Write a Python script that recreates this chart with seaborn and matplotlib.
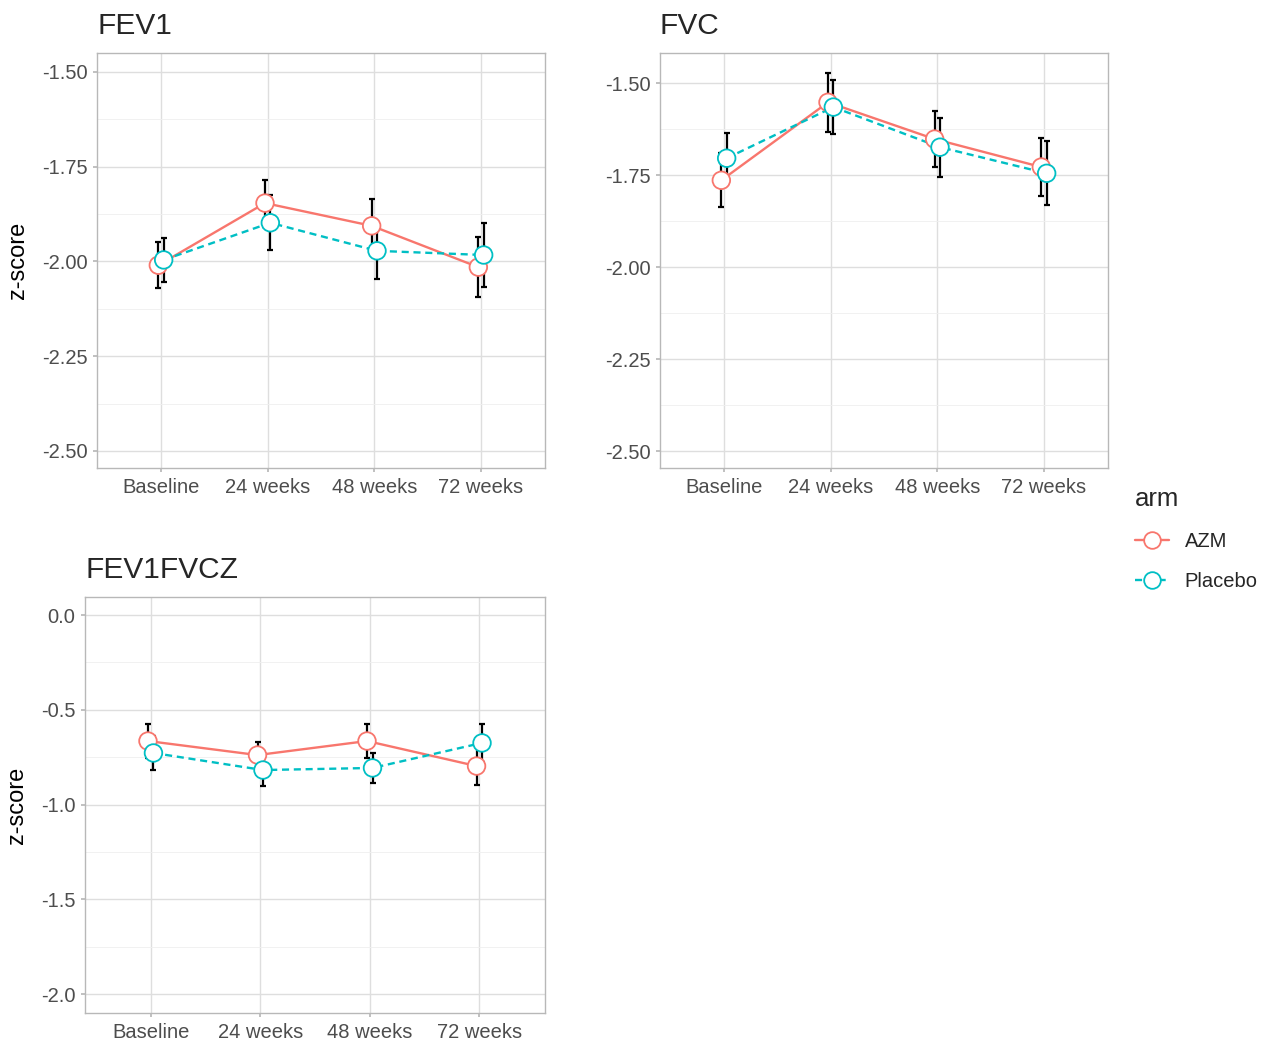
import numpy as np
import pandas as pd
import matplotlib
matplotlib.use("Agg")
import matplotlib.pyplot as plt
from matplotlib.lines import Line2D
import seaborn as sns

# visits and arms
visits = ["Baseline", "24 weeks", "48 weeks", "72 weeks"]
arms = ["AZM", "Placebo"]

# mean z-scores and error bar half-widths
fev1_azm = [-2.010, -1.846, -1.906, -2.015]
fev1_azm_err = [0.060, 0.062, 0.070, 0.080]
fev1_pbo = [-1.996, -1.898, -1.972, -1.983]
fev1_pbo_err = [0.057, 0.073, 0.074, 0.085]

fvc_azm = [-1.764, -1.552, -1.652, -1.728]
fvc_azm_err = [0.073, 0.080, 0.077, 0.080]
fvc_pbo = [-1.704, -1.565, -1.674, -1.745]
fvc_pbo_err = [0.068, 0.073, 0.080, 0.087]

ratio_azm = [-0.665, -0.739, -0.665, -0.797]
ratio_azm_err = [0.090, 0.070, 0.090, 0.100]
ratio_pbo = [-0.728, -0.818, -0.807, -0.675]
ratio_pbo_err = [0.090, 0.084, 0.080, 0.100]

palette = {"AZM": "#F8766D", "Placebo": "#00BFC4"}
dodge = {"AZM": -0.025, "Placebo": 0.025}


def make_df(azm, azm_err, pbo, pbo_err):
    rows = []
    for arm, vals, errs in [("AZM", azm, azm_err), ("Placebo", pbo, pbo_err)]:
        for i, (v, e) in enumerate(zip(vals, errs)):
            rows.append({"visit": visits[i], "arm": arm, "x": i + dodge[arm], "z": v, "err": e})
    return pd.DataFrame(rows)


sns.set_theme(style="white")
plt.rcParams["font.family"] = ["Liberation Sans", "DejaVu Sans"]

W, H = 1268, 1043
fig = plt.figure(figsize=(W / 100, H / 100), dpi=100)


def panel(rect, df, title, ylim, major, ylabel):
    l, t, r, b = rect
    ax = fig.add_axes([l / W, 1 - b / H, (r - l) / W, (b - t) / H])

    # lines
    sns.lineplot(data=df, x="x", y="z", hue="arm", style="arm", palette=palette,
                 dashes={"AZM": "", "Placebo": (3, 2)}, linewidth=1.7,
                 legend=False, ax=ax, zorder=3, estimator=None, sort=True)
    # error bars
    for arm in arms:
        d = df[df["arm"] == arm]
        ax.errorbar(d["x"], d["z"], yerr=d["err"], fmt="none", ecolor="black",
                    elinewidth=1.6, capsize=2.2, capthick=1.6, zorder=4)
    # open markers
    sns.scatterplot(data=df, x="x", y="z", hue="arm", palette=palette,
                    s=160, legend=False, ax=ax, zorder=5, linewidth=1.3)
    coll = ax.collections[-1]
    coll.set_edgecolors(coll.get_facecolors())
    coll.set_facecolors("white")

    ax.set_xlim(-0.6, 3.6)
    ax.set_ylim(*ylim)
    ax.set_xticks(range(len(visits)))
    ax.set_xticklabels(visits)
    ax.set_yticks(major)
    step = major[1] - major[0]
    ax.set_yticks([m + step / 2 for m in major[:-1]], minor=True)
    if step >= 0.5:
        ax.set_yticklabels([f"{m:.1f}" for m in major])
    else:
        ax.set_yticklabels([f"{m:.2f}" for m in major])
    ax.grid(which="major", color="#dedede", linewidth=1.0)
    ax.grid(which="minor", axis="y", color="#efefef", linewidth=0.6)
    ax.set_axisbelow(True)
    for s in ax.spines.values():
        s.set_color("#b8b8b8")
        s.set_linewidth(1.0)
    ax.tick_params(axis="both", which="major", labelsize=14.5, labelcolor="#4d4d4d",
                   length=3, color="#b8b8b8", pad=4, bottom=True, left=True)
    ax.tick_params(which="minor", length=0)
    ax.set_xlabel("")
    ax.set_ylabel(ylabel, fontsize=17, color="black", labelpad=9)
    ax.set_title(title, loc="left", fontsize=21.5, pad=14)
    return ax


panel((97, 53, 545, 468), make_df(fev1_azm, fev1_azm_err, fev1_pbo, fev1_pbo_err),
      "FEV1", (-2.545, -1.45), [-2.5, -2.25, -2.0, -1.75, -1.5], "z-score")
panel((660, 53, 1108, 468), make_df(fvc_azm, fvc_azm_err, fvc_pbo, fvc_pbo_err),
      "FVC", (-2.546, -1.418), [-2.5, -2.25, -2.0, -1.75, -1.5], "")
panel((85, 597, 545, 1013), make_df(ratio_azm, ratio_azm_err, ratio_pbo, ratio_pbo_err),
      "FEV1FVCZ", (-2.1, 0.095), [-2.0, -1.5, -1.0, -0.5, 0.0], "z-score")

handles = [
    Line2D([], [], color=palette["AZM"], linewidth=1.7, marker="o", markersize=12,
           markerfacecolor="white", markeredgecolor=palette["AZM"], markeredgewidth=1.3),
    Line2D([], [], color=palette["Placebo"], linewidth=1.7, linestyle=(0, (3, 2)), marker="o",
           markersize=12, markerfacecolor="white", markeredgecolor=palette["Placebo"],
           markeredgewidth=1.3),
]
leg = fig.legend(handles, arms, title="arm", loc="upper left",
                 bbox_to_anchor=(1117 / W, 1 - 469 / H), frameon=False,
                 fontsize=14.5, title_fontsize=18.5, handlelength=1.7,
                 labelspacing=1.05, handletextpad=0.75)
leg._legend_box.align = "left"

fig.savefig("out.png", dpi=100)
